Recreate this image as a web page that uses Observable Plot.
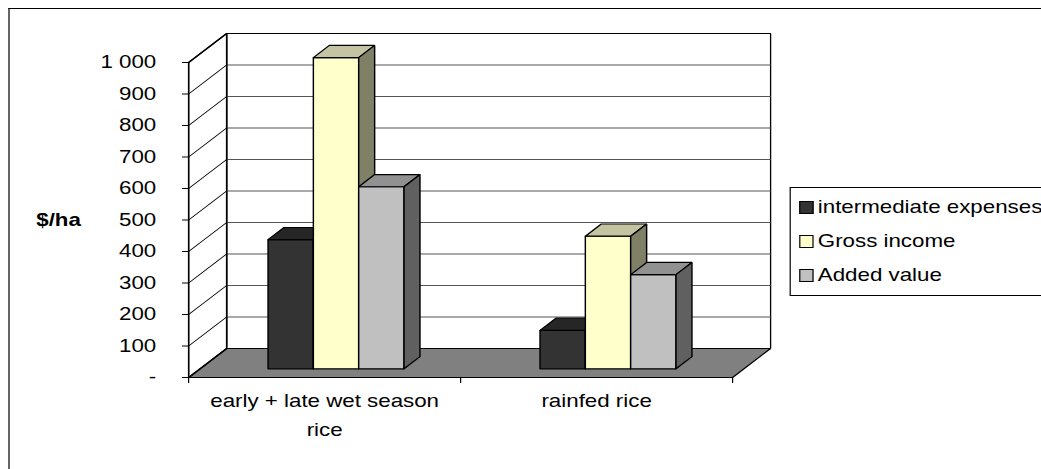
<!DOCTYPE html>
<html>
<head>
<meta charset="utf-8">
<script src="https://cdn.jsdelivr.net/npm/d3@7"></script>
<script src="https://cdn.jsdelivr.net/npm/@observablehq/plot@0.6"></script>
<style>
  html, body { margin: 0; padding: 0; background: #fff; overflow: hidden; width: 1041px; height: 469px; }
  #wrap { position: absolute; left: 0; top: 0; width: 868px; height: 469px; transform: scaleX(1.2); transform-origin: 0 0;
          font-family: "Liberation Sans", Arial, sans-serif; }
  #frame { position: absolute; left: 7.4px; top: 8px; width: 2000px; height: 2000px;
           border-left: 1.6px solid #000; border-top: 1.4px solid #000; }
  #chart { position: absolute; left: 0; top: 0; }
  #legend { position: absolute; left: 657.5px; top: 187px; width: 400px; height: 107px; border: 1px solid #000; background: #fff; }
  .item { position: absolute; left: 7px; height: 20px; font-size: 18.6px; line-height: 20px; color: #000; white-space: nowrap; }
  .sw { display: inline-block; width: 10px; height: 11px; border: 1px solid #000; vertical-align: -1px; margin-right: 4px; }
</style>
</head>
<body>
<div id="wrap">
  <div id="frame"></div>
  <div id="chart"></div>
  <div id="legend"></div>
</div>
<script>
// ---- data ----
const categories = ["early + late wet season rice", "rainfed rice"];
const categoryLabelLines = [["early + late wet season", "rice"], ["rainfed rice"]];
const seriesNames = ["intermediate expenses", "Gross income", "Added value"];
const intermediateExpenses = [410, 122];
const grossIncome = [988, 421];
const addedValue = [578, 299];
const yTicks = [0, 100, 200, 300, 400, 500, 600, 700, 800, 900, 1000];
const yTickLabels = ["-", "100", "200", "300", "400", "500", "600", "700", "800", "900", "1 000"];
const yLabel = "$/ha";

// face colours per series: [front, top, side]
const seriesColors = [
  ["#333333", "#262626", "#1a1a1a"],
  ["#ffffcc", "#c4c4a2", "#808066"],
  ["#c0c0c0", "#919191", "#606060"]
];
const seriesValues = [intermediateExpenses, grossIncome, addedValue];

// ---- 3D projection in data units ----
const DX = 0.1397;   // depth shift along x (category units)
const DY = 92;       // depth shift along y (value units)
const T0 = 0.3, T1 = 0.72; // bar depth span
const P = (x, v, t) => ({x: x + t * DX, y: v + t * DY});
const poly = (id, fill, pts) => pts.concat([pts[0]]).map(p => ({...p, id, fill}));

const yMax = yTicks[yTicks.length - 1];
const nCat = categories.length;

const walls = [
  ...poly("floor", "#808080", [P(0, 0, 0), P(nCat, 0, 0), P(nCat, 0, 1), P(0, 0, 1)]),
  ...poly("back", "#ffffff", [P(0, 0, 1), P(nCat, 0, 1), P(nCat, yMax, 1), P(0, yMax, 1)]),
  ...poly("left", "#ffffff", [P(0, 0, 0), P(0, yMax, 0), P(0, yMax, 1), P(0, 0, 1)])
];

const faces = [];
const bw = 1 / 6;
categories.forEach((c, i) => {
  seriesValues.forEach((vals, j) => {
    const v = vals[i];
    const x0 = i + 0.25 + j * bw, x1 = x0 + bw;
    const [cf, ct, cs] = seriesColors[j];
    const id = `b${i}-${j}`;
    faces.push(...poly(id + "f", cf, [P(x0, 0, T0), P(x1, 0, T0), P(x1, v, T0), P(x0, v, T0)]));
    faces.push(...poly(id + "t", ct, [P(x0, v, T0), P(x1, v, T0), P(x1, v, T1), P(x0, v, T1)]));
    faces.push(...poly(id + "s", cs, [P(x1, 0, T0), P(x1, 0, T1), P(x1, v, T1), P(x1, v, T0)]));
  });
});

const inner = yTicks.filter(v => v > 0 && v < yMax);
const W = 868, H = 469;

const chart = Plot.plot({
  width: W, height: H,
  marginLeft: 156.7, marginRight: W - 610, marginTop: 62, marginBottom: 92,
  x: {domain: [0, nCat]},
  y: {domain: [0, yMax]},
  color: {type: "identity"},
  style: {fontFamily: "'Liberation Sans', Arial, sans-serif", fontSize: "18.6px", color: "#000", background: "transparent", overflow: "visible"},
  marks: [
    Plot.line(walls, {x: "x", y: "y", z: "id", fill: "fill", stroke: "#000", strokeWidth: 1.1, strokeLinejoin: "miter"}),
    Plot.link(inner, {x1: () => DX, x2: () => nCat + DX, y1: v => v + DY, y2: v => v + DY, stroke: "#555", strokeWidth: 1.1}),
    Plot.link(inner, {x1: () => 0, x2: () => DX, y1: v => v, y2: v => v + DY, stroke: "#000", strokeWidth: 0.9}),
    Plot.line(walls.filter(d => d.id === "left"), {x: "x", y: "y", stroke: "#000", strokeWidth: 1.2}),
    Plot.line(faces, {x: "x", y: "y", z: "id", fill: "fill", stroke: "#000", strokeWidth: 1.2, strokeLinejoin: "miter"}),
    Plot.axisY(yTicks, {tickFormat: d => yTickLabels[yTicks.indexOf(d)], tickSize: 5, tickPadding: 22, label: null, stroke: "#000", fontSize: 18.6}),
    Plot.axisX(d3.range(nCat + 1), {tickFormat: () => "", tickSize: 6, label: null, stroke: "#000"}),
    Plot.text(categories, {x: (d, i) => i + 0.5, y: () => 0, dy: 9, text: (d, i) => categoryLabelLines[i].join("\n"),
      lineAnchor: "top", lineHeight: 1.56, fontSize: 18.6, fill: "#000"}),
    Plot.text([yLabel], {x: () => 0, y: () => 500, dx: -127, textAnchor: "start", fontWeight: "bold", fontSize: 18.6, fill: "#000"})
  ]
});
document.getElementById("chart").appendChild(chart);

// legend
const legend = document.getElementById("legend");
const rowTops = [9, 43, 77];
seriesNames.forEach((name, j) => {
  const it = document.createElement("div");
  it.className = "item";
  it.style.top = rowTops[j] + "px";
  const sw = document.createElement("span");
  sw.className = "sw";
  sw.style.background = seriesColors[j][0];
  it.appendChild(sw);
  it.appendChild(document.createTextNode(name));
  legend.appendChild(it);
});
</script>
</body>
</html>
